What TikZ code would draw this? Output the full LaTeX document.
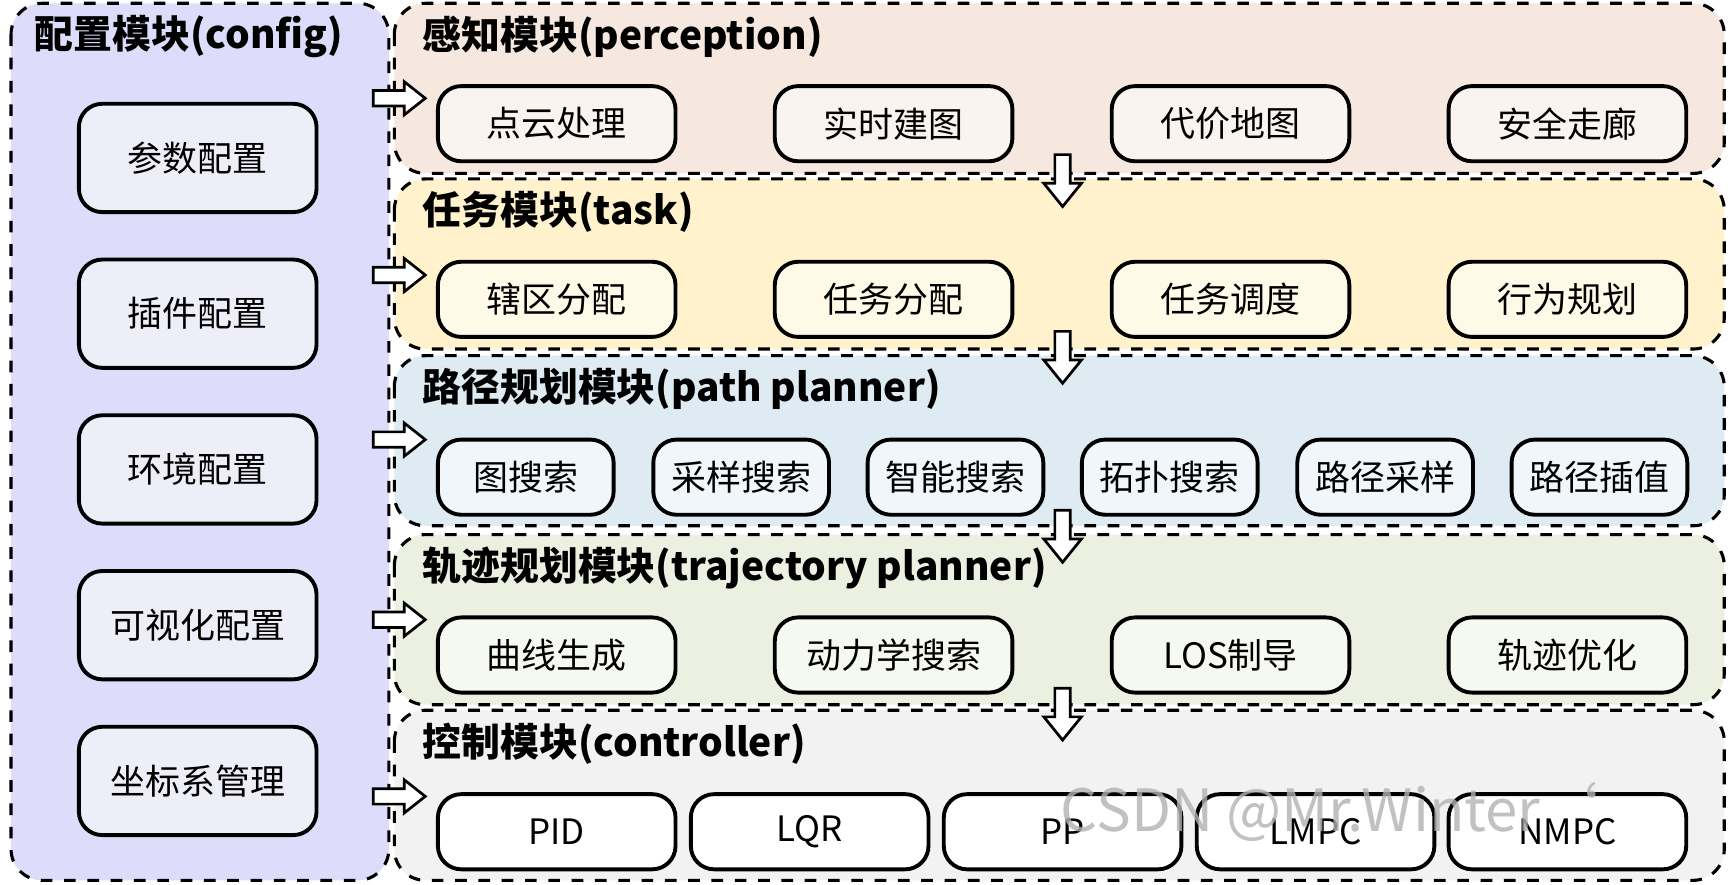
\documentclass[tikz,border=0pt]{standalone}
\usepackage{fontspec}
\setmainfont{Noto Sans CJK SC}
\begin{document}
\begin{tikzpicture}[x=0.01cm,y=-0.01cm,
  panel/.style={draw,dashed,rounded corners=8pt,line width=0.8pt},
  item/.style={draw,rounded corners=6pt,line width=1pt,minimum height=0.68cm,font=\fontsize{9}{10}\selectfont,inner sep=0pt},
  ttl/.style={anchor=west,font=\fontsize{10}{12}\selectfont\bfseries,inner sep=0pt},
  barrow/.style={draw,fill=white,line width=0.7pt}]
\useasboundingbox (0,0) rectangle (1568,801);
% config panel
\draw[panel,fill={rgb,255:red,221;green,221;blue,251}] (10,3) rectangle (352,797);
\node[font=\fontsize{10}{12}\selectfont\bfseries] (cfgt) at (171,33) {配置模块(config)};
\foreach \t [count=\i] in {参数配置,插件配置,环境配置,可视化配置,坐标系管理}{
  \node[item,fill={rgb,255:red,238;green,238;blue,248},minimum width=2.15cm,minimum height=0.98cm] (c\i) at (179,{143+141*(\i-1)}) {\t};}
% right panels
\def\panels{3/157/246/232/222/感知模块(perception)/p,162/316/255/242/204/任务模块(task)/t,322/476/222/235/243/路径规划模块(path planner)/pp,484/638/235/240/224/轨迹规划模块(trajectory planner)/tr,643/797/242/242/242/控制模块(controller)/c}
\foreach \a/\b/\r/\g/\bb/\t/\n in \panels{
  \draw[panel,fill={rgb,255:red,\r;green,\g;blue,\bb}] (357,\a) rectangle (1561,\b);
  \node[ttl] (\n T) at (382,\a+30) {\t};}
\foreach \t/\x in {点云处理/504,实时建图/809,代价地图/1114,安全走廊/1419}
  \node[item,fill={rgb,255:red,250;green,244;blue,240},minimum width=2.15cm] (p\x) at (\x,112) {\t};
\foreach \t/\x in {辖区分配/504,任务分配/809,任务调度/1114,行为规划/1419}
  \node[item,fill={rgb,255:red,255;green,249;blue,232},minimum width=2.15cm] (t\x) at (\x,271) {\t};
\foreach \t/\x in {图搜索/476,采样搜索/671,智能搜索/865,拓扑搜索/1059,路径采样/1254,路径插值/1448}
  \node[item,fill={rgb,255:red,240;green,246;blue,250},minimum width=1.59cm] (pp\x) at (\x,432) {\t};
\foreach \t/\x in {曲线生成/504,动力学搜索/809,LOS制导/1114,轨迹优化/1419}
  \node[item,fill={rgb,255:red,246;green,249;blue,240},minimum width=2.15cm] (tr\x) at (\x,593) {\t};
\foreach \t/\x in {PID/504,LQR/733,PP/962,LMPC/1191,NMPC/1419}
  \node[item,fill=white,minimum width=2.15cm] (cc\x) at (\x,753) {\t};
% right arrows
\foreach \y in {89,249,398,561,721}
  \draw[barrow] (338,\y-7) -- (366,\y-7) -- (366,\y-15) -- (385,\y) -- (366,\y+15) -- (366,\y+7) -- (338,\y+7) -- cycle;
% down arrows
\foreach \y in {140,300,462,623}
  \draw[barrow] (955,\y) -- (969,\y) -- (969,\y+26) -- (979,\y+26) -- (962,\y+47) -- (945,\y+26) -- (955,\y+26) -- cycle;
\node[anchor=west,text=black!30,opacity=0.8,font=\fontsize{15}{16}\selectfont] (wm) at (948,735) {CSDN @Mr.Winter{\char96}};
\end{tikzpicture}
\end{document}
